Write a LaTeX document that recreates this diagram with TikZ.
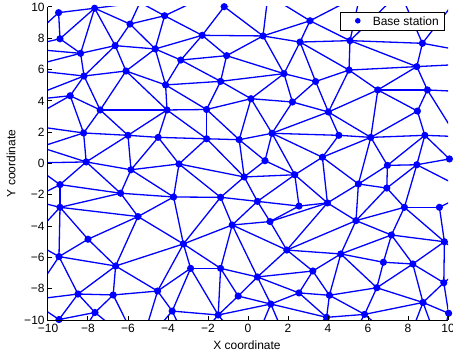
\documentclass[tikz,border=0pt]{standalone}
\usepackage{fontspec}
\setmainfont{Liberation Sans}
\definecolor{netBlue}{RGB}{0,0,255}
\newcommand{\axnum}[1]{\ifnum#1<0 −\number\numexpr-#1\relax\else#1\fi}

\begin{document}
\begin{tikzpicture}[x=10pt, y=7.825pt,
    link/.style={netBlue, line width=0.65pt},
    station/.style={netBlue},
    axis/.style={black, line width=0.5pt},
    lbl/.style={font=\fontsize{6}{7}\selectfont}]
  \useasboundingbox (-12.4,-12.3) rectangle (10.25,10.447);
  % sensor positions
  \foreach \n/\x/\y in {1/-9.47/9.64, 2/-7.67/9.92, 3/-5.90/8.91, 4/-4.17/9.44, 5/-1.19/10.02,
      6/3.10/9.12, 7/-9.40/7.97, 8/-8.37/7.04, 9/-6.64/7.53, 10/-4.64/7.32, 11/-3.36/6.61,
      12/-2.29/8.19, 13/0.75/8.15, 14/-1.07/6.89, 15/2.60/7.76, 16/5.10/7.85, 17/8.72/7.68,
      18/8.44/6.19, 19/5.05/5.97, 20/1.80/5.74, 21/3.38/5.24, 22/-1.37/5.25, 23/-6.10/5.91,
      24/-8.20/5.59, 25/-4.12/5.02, 26/-8.89/4.33, 27/-7.39/3.42, 28/-4.05/3.42, 29/-2.07/3.45,
      30/0.15/4.14, 31/2.22/3.93, 32/4.02/3.29, 33/6.49/4.70, 34/8.97/4.70, 35/8.47/3.35,
      36/-8.22/1.95, 37/-6.00/1.80, 38/-4.49/1.67, 39/-2.07/1.58, 40/-0.44/1.52, 41/1.20/1.93,
      42/4.54/1.80, 43/6.14/1.67, 44/8.84/1.80, 45/-8.09/0.10, 46/-5.85/-0.40, 47/-3.45/-0.03,
      48/0.85/0.18, 49/3.72/0.40, 50/10.07/0.29, 51/6.97/-0.12, 52/8.44/-0.08, 53/-0.19/-0.86,
      54/2.34/-0.72, 55/-9.40/-1.35, 56/-6.37/-1.90, 57/-3.72/-2.14, 58/-1.37/-2.16,
      59/0.47/-2.42, 60/2.55/-2.72, 61/5.52/-1.31, 62/6.94/-1.57, 63/-9.40/-2.80,
      64/-5.50/-3.39, 65/3.97/-2.52, 66/7.82/-2.80, 67/9.57/-2.80, 68/1.10/-3.71,
      69/5.40/-3.65, 70/-0.79/-3.93, 71/-8.00/-4.84, 72/-3.23/-5.14, 73/-9.45/-5.95,
      74/-6.62/-6.55, 75/1.94/-5.53, 76/7.17/-4.57, 77/9.82/-5.00, 78/4.64/-5.78,
      79/-2.87/-6.70, 80/-1.37/-6.70, 81/0.47/-7.25, 82/3.24/-6.87, 83/6.77/-6.31,
      84/8.24/-6.42, 85/-8.50/-8.34, 86/-6.74/-8.40, 87/-4.52/-8.15, 88/-0.49/-8.47,
      89/1.14/-8.98, 90/2.55/-8.27, 91/6.44/-7.94, 92/9.79/-7.62, 93/4.07/-8.42,
      94/8.75/-8.88, 95/-7.65/-9.52, 96/-3.79/-9.43, 97/-1.49/-9.68, 98/-9.45/-9.97,
      99/3.93/-9.83, 100/5.83/-9.64, 101/10.03/-9.57}
    \coordinate (p\n) at (\x,\y);
  % neighbours outside the plotted square
  \coordinate (gla) at (-11.4,7.38);
  \coordinate (glb) at (-11.4,6.04);
  \coordinate (glc) at (-11.4,3.99);
  \coordinate (gld) at (-11.4,2.52);
  \coordinate (gle) at (-10.4,1.05);
  \coordinate (glf) at (-10.9,0.03);
  \coordinate (glg) at (-10.9,-2.33);
  \coordinate (glh) at (-10.9,-4.89);
  \coordinate (gli) at (-10.9,-8.72);
  \coordinate (gb1) at (-8.65,-11.53);
  \coordinate (gb2) at (-5.4,-11.85);
  \coordinate (gb3) at (-2.9,-11.85);
  \coordinate (gb4) at (0.1,-12.17);
  \coordinate (gb5) at (2.1,-11.85);
  \coordinate (gb6) at (4.85,-11.85);
  \coordinate (gb7) at (7.85,-11.85);
  \coordinate (gb8) at (9.6,-11.85);
  \coordinate (gr1) at (11.1,7.12);
  \coordinate (gr2) at (11.1,6.36);
  \coordinate (gr3) at (11.1,4.57);
  \coordinate (gr4) at (10.85,0.86);
  \coordinate (gr5) at (11.1,1.69);
  \coordinate (gr6) at (11.1,-1.82);
  \coordinate (gr7) at (11.1,-6.29);
  \coordinate (gr8) at (11.1,-10.0);
  \coordinate (gt1) at (-5.4,10.29);
  \coordinate (gt2) at (-2.4,10.51);
  \coordinate (gt3) at (1.0,10.77);
  \coordinate (gt5) at (5.6,10.77);
  \coordinate (gt6) at (7.6,10.96);
  \coordinate (gt7) at (10.6,10.77);
  \begin{scope}
    \clip (-10,-10) rectangle (10,10);
    % triangulation
    \foreach \a/\b in {1/2, 1/7, 2/7, 2/8, 2/9, 2/3, 3/4, 3/9, 3/10, 4/10, 4/12, 7/8, 8/9,
        8/24, 9/10, 9/24, 9/23, 10/23, 10/11, 10/25, 10/12, 23/24, 24/26, 24/27, 23/27,
        23/28, 23/25, 25/28, 27/28, 26/27, 11/25, 11/12, 11/14, 11/22, 25/22, 25/29, 28/29,
        5/12, 5/13, 12/13, 12/14, 13/14, 13/20, 13/15, 13/6, 6/15, 15/20, 14/22, 14/20,
        22/20, 20/21, 22/30, 20/30, 20/31, 30/31, 22/29, 29/30, 15/21, 15/16, 15/19, 21/31,
        21/19, 6/16, 16/17, 16/19, 16/18, 17/18, 18/19, 18/34, 18/33, 19/33, 19/32, 21/32,
        33/34, 32/33, 33/43, 34/35, 33/35, 35/43, 35/44, 31/32, 31/41, 32/41, 32/42, 32/43,
        27/36, 27/37, 28/37, 28/38, 28/39, 29/39, 29/40, 30/40, 30/41, 26/36, 36/37, 36/45,
        37/38, 37/45, 37/46, 38/46, 38/47, 38/39, 39/40, 39/47, 39/53, 40/41, 40/48, 40/53,
        41/48, 41/42, 41/49, 41/54, 42/43, 42/49, 43/44, 43/49, 43/61, 43/51, 44/51, 44/52,
        44/50, 45/46, 45/55, 45/56, 46/47, 46/56, 46/57, 47/53, 47/57, 47/58, 48/53, 48/54,
        49/54, 49/61, 49/65, 51/52, 51/61, 51/62, 52/62, 52/50, 52/66, 53/58, 53/59, 53/54,
        54/59, 54/60, 54/65, 55/56, 55/63, 56/57, 56/63, 56/64, 57/64, 57/58, 58/59, 59/60,
        59/68, 59/70, 58/70, 58/72, 60/65, 60/68, 61/62, 61/65, 61/69, 62/69, 62/66, 65/69,
        66/67, 66/69, 63/64, 63/71, 63/73, 64/71, 64/74, 64/72, 57/72, 71/73, 71/74, 73/74,
        73/85, 74/72, 74/85, 74/86, 74/87, 85/86, 85/95, 85/98, 86/95, 86/87, 87/96, 72/87,
        95/98, 70/68, 70/72, 70/80, 70/81, 70/75, 68/75, 65/68, 65/75, 69/75, 72/79, 72/80,
        79/80, 79/87, 79/96, 79/97, 80/97, 80/81, 80/88, 81/88, 81/89, 81/82, 81/90, 75/81,
        75/82, 75/78, 88/89, 88/97, 89/90, 89/97, 90/82, 90/93, 96/97, 66/76, 66/77, 67/77,
        69/76, 69/78, 76/77, 76/78, 76/83, 76/84, 77/84, 77/92, 78/83, 78/82, 78/93, 78/91,
        83/84, 83/91, 84/91, 84/94, 84/92, 92/94, 93/91, 93/99, 93/100, 91/100, 91/94,
        94/100, 94/101, 99/100, 92/101, 82/93, 89/99, 90/99}
      \draw[link] (p\a) -- (p\b);
    % edges leaving the square
    \foreach \a/\b in {1/gla, 7/gla, 8/gla, 8/glb, 24/glb, 24/glc, 26/glc, 26/gld, 36/gld,
        36/gle, 45/gle, 45/glf, 55/glf, 55/glg, 63/glg, 63/glh, 73/glh, 73/gli, 85/gli,
        98/gli, 98/gb1, 95/gb1, 95/gb2, 86/gb2, 87/gb2, 96/gb2, 96/gb3, 97/gb3, 97/gb4,
        89/gb4, 89/gb5, 99/gb5, 99/gb6, 100/gb6, 100/gb7, 94/gb7, 94/gb8, 101/gb8,
        17/gr1, 18/gr2, 34/gr3, 34/gr4, 44/gr5, 50/gr5, 52/gr6, 67/gr6, 50/gr6, 77/gr7,
        92/gr7, 101/gr8, 2/gt1, 3/gt1, 4/gt1, 4/gt2, 5/gt2, 5/gt3, 13/gt3, 6/gt3, 6/gt5,
        16/gt5, 16/gt6, 17/gt6, 17/gt7}
      \draw[link] (p\a) -- (\b);
  \end{scope}
  \foreach \n in {1,...,101}
    \fill[station] (p\n) circle (1.8pt);
  % axes
  \draw[axis] (-10,10) -- (-10,-10) -- (10,-10);
  \foreach \v in {-10,-8,...,10} {
    \draw[axis] (\v,-10) -- (\v,-9.74);
    \draw[axis] (-10,\v) -- (-9.8,\v);
    \node[lbl, below, inner sep=2pt] at (\v,-10) {\axnum{\v}};
    \node[lbl, left, inner sep=1.5pt] at (-10,\v) {\axnum{\v}};
  }
  \node[lbl] at (-0.05,-11.6) {X coordinate};
  \node[lbl, rotate=90] at (-11.85,0) {Y coordinate};
  % legend
  \draw[axis, fill=white] (4.64,8.49) rectangle (9.82,9.64);
  \fill[station] (5.49,9.12) circle (1.4pt);
  \node[lbl, anchor=west, inner sep=0pt] at (6.22,9.12) {Base station};
\end{tikzpicture}
\end{document}
